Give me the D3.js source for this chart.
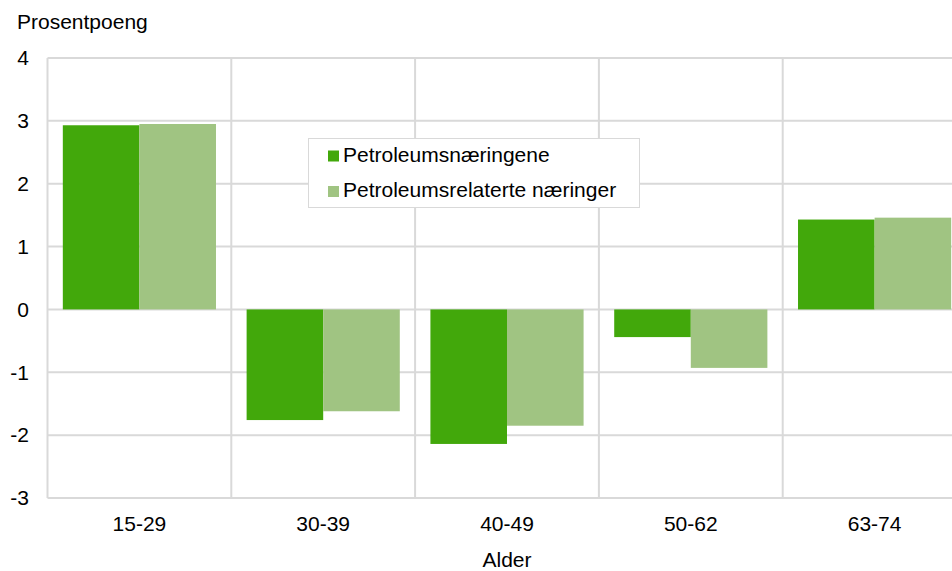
<!DOCTYPE html>
<html><head><meta charset="utf-8">
<script src="https://cdn.jsdelivr.net/npm/d3@7"></script>
<style>body{margin:0;background:#fff;}svg{display:block;font-family:"Liberation Sans",Arial,sans-serif;}</style>
</head><body><svg id="c" width="952" height="571"></svg>
<script>
const categories = ["15-29","30-39","40-49","50-62","63-74"];
const seriesNames = ["Petroleumsnæringene","Petroleumsrelaterte næringer"];
const petroleum = [2.93,-1.76,-2.14,-0.44,1.43];
const related = [2.95,-1.62,-1.85,-0.93,1.46];
const yTicks = [4,3,2,1,0,-1,-2,-3];
const colors = ["#42a80b","#a0c482"];

(function(){
const svg = d3.select("#c");
const FS = 21;
const pLeft = 47.5, pRight = 966.5, pTop = 58, pBottom = 498;
const x = d3.scaleBand().domain(categories).range([pLeft,pRight]).paddingInner(0).paddingOuter(0);
const y = d3.scaleLinear().domain([-3,4]).range([pBottom,pTop]);
const inner = d3.scaleBand().domain([0,1]).range([0,x.bandwidth()]).paddingInner(0).paddingOuter(0.2);

const grid = svg.append("g");
grid.selectAll("line.h").data(yTicks).join("line")
  .attr("x1",pLeft).attr("x2",pRight).attr("y1",d=>y(d)).attr("y2",d=>y(d))
  .attr("stroke","#d9d9d9").attr("stroke-width",2);
const vx = categories.map(c=>x(c)).concat([pRight]);
grid.selectAll("line.v").data(vx).join("line")
  .attr("x1",d=>d).attr("x2",d=>d).attr("y1",pTop).attr("y2",pBottom)
  .attr("stroke","#d9d9d9").attr("stroke-width",2);

const series = [petroleum, related];
series.forEach((vals,si)=>{
  svg.append("g").selectAll("rect").data(vals).join("rect")
    .attr("x",(d,i)=>x(categories[i])+inner(si))
    .attr("width",inner.bandwidth())
    .attr("y",d=>y(Math.max(0,d)))
    .attr("height",d=>Math.abs(y(d)-y(0)))
    .attr("fill",colors[si]);
});

svg.append("g").selectAll("text").data(yTicks).join("text")
  .attr("x",29).attr("y",d=>y(d)).attr("dy","0.35em").attr("text-anchor","end")
  .attr("font-size",FS).attr("fill","#000").text(d=>d);

svg.append("g").selectAll("text").data(categories).join("text")
  .attr("x",d=>x(d)+x.bandwidth()/2).attr("y",531).attr("text-anchor","middle")
  .attr("font-size",FS).attr("fill","#000").text(d=>d);

svg.append("text").attr("x",507).attr("y",567).attr("text-anchor","middle")
  .attr("font-size",FS).text("Alder");
svg.append("text").attr("x",17).attr("y",29)
  .attr("font-size",FS).text("Prosentpoeng");

const lg = svg.append("g");
lg.append("rect").attr("x",308.5).attr("y",138.5).attr("width",331).attr("height",69)
  .attr("fill","#fff").attr("stroke","#d9d9d9").attr("stroke-width",1);
seriesNames.forEach((n,i)=>{
  const base = 161.5 + i*35.5;
  lg.append("rect").attr("x",328).attr("y",base-11).attr("width",11).attr("height",11).attr("fill",colors[i]);
  lg.append("text").attr("x",343).attr("y",base).attr("font-size",FS).text(n);
});
})();
</script></body></html>
